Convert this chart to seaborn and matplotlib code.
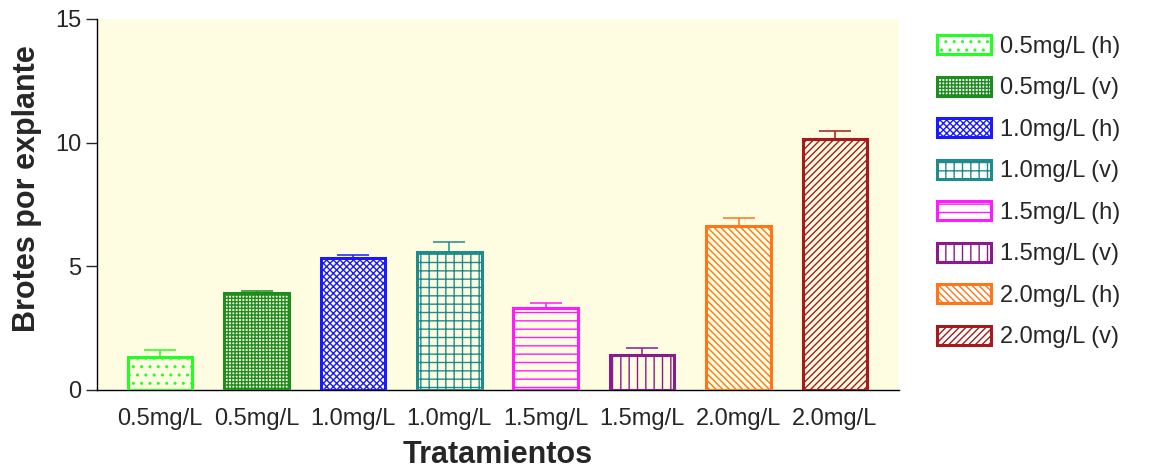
import matplotlib
matplotlib.use("Agg")
import matplotlib.pyplot as plt
import seaborn as sns
from matplotlib.patches import Patch

# ---- data ----
series_labels = ["0.5mg/L (h)", "0.5mg/L (v)", "1.0mg/L (h)", "1.0mg/L (v)",
                 "1.5mg/L (h)", "1.5mg/L (v)", "2.0mg/L (h)", "2.0mg/L (v)"]
tick_labels = ["0.5mg/L", "0.5mg/L", "1.0mg/L", "1.0mg/L",
               "1.5mg/L", "1.5mg/L", "2.0mg/L", "2.0mg/L"]
means = [1.35, 3.91, 5.32, 5.57, 3.30, 1.42, 6.63, 10.15]
errors = [0.25, 0.10, 0.15, 0.41, 0.23, 0.28, 0.34, 0.32]

colors = ["#22FF22", "#1E8C1E", "#1A1AFF", "#1E8C8C",
          "#FF1AFF", "#8B1A8B", "#FF7518", "#A51A1A"]
hatches = ["..", "+++++", "xxxxx", "++", "--", "||", "\\\\\\\\\\", "/////"]

sns.set_style("ticks")
plt.rcParams['font.family'] = ['Liberation Sans', 'DejaVu Sans']
plt.rcParams['hatch.linewidth'] = 1.0

fig = plt.figure(figsize=(11.63, 4.71), dpi=100, facecolor="white")
ax = fig.add_axes([0.0834, 0.172, 0.6896, 0.788])
ax.set_facecolor("#FEFDE2")

sns.barplot(x=series_labels, y=means, hue=series_labels, palette=colors,
            dodge=False, legend=False, width=0.67, ax=ax, errorbar=None)

for i, p in enumerate(ax.patches[:len(means)]):
    p.set_edgecolor(colors[i])
    p.set_hatch(hatches[i])
    p.set_linewidth(2.2)
    p.set_zorder(3)
    p.set_facecolor((1, 1, 1, 0))

for i, (m, e) in enumerate(zip(means, errors)):
    ax.errorbar(i, m, yerr=[[0], [e]], color=colors[i], capsize=11.5,
                elinewidth=1.1, capthick=1.1, fmt="none", zorder=2)

ax.set_xlim(-0.655, 7.665)
ax.set_ylim(0, 15)
ax.set_yticks([0, 5, 10, 15])
ax.set_xticks(range(len(tick_labels)))
ax.set_xticklabels(tick_labels)
ax.tick_params(axis="y", labelsize=17, length=8, width=1, direction="out", pad=3)
ax.tick_params(axis="x", labelsize=17, length=0, pad=13)
ax.set_xlabel("Tratamientos", fontsize=22, fontweight="bold", labelpad=7)
ax.set_ylabel("Brotes por explante", fontsize=22, fontweight="bold")
ax.yaxis.set_label_coords(-0.069, 0.542)
for s in ["top", "right"]:
    ax.spines[s].set_visible(False)
for s in ["left", "bottom"]:
    ax.spines[s].set_color("black")
    ax.spines[s].set_linewidth(1.0)

handles = [Patch(facecolor="white", edgecolor=c, hatch=h, linewidth=2.2, label=l)
           for c, h, l in zip(colors, hatches, series_labels)]
fig.legend(handles=handles, loc="upper left", bbox_to_anchor=(0.787, 0.97),
           frameon=False, fontsize=17, handlelength=2.3, handleheight=0.85,
           handletextpad=0.4, labelspacing=0.8)

fig.savefig("out.png", dpi=100, facecolor=fig.get_facecolor())
